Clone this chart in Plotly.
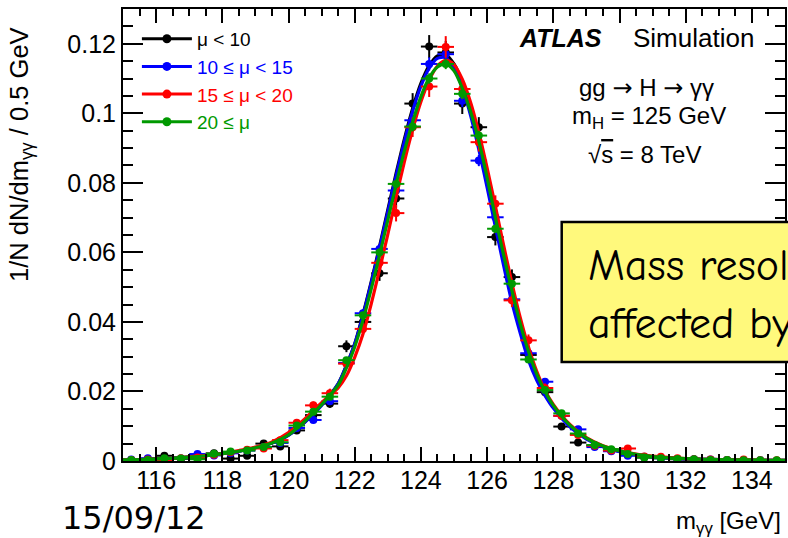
import plotly.graph_objects as go

# ---------------- data ----------------
bin_centers = [115.25, 115.75, 116.25, 116.75, 117.25, 117.75, 118.25, 118.75, 119.25, 119.75,
               120.25, 120.75, 121.25, 121.75, 122.25, 122.75, 123.25, 123.75, 124.25, 124.75,
               125.25, 125.75, 126.25, 126.75, 127.25, 127.75, 128.25, 128.75, 129.25, 129.75,
               130.25, 130.75, 131.25, 131.75, 132.25, 132.75, 133.25, 133.75, 134.25, 134.75]

black_vals = [0.0003, 0.0005, 0.0015, 0.0006, 0.0008, 0.0022, 0.0007, 0.0015, 0.0050, 0.0042,
              0.0088, 0.0132, 0.0165, 0.0330, 0.0400, 0.0540, 0.0755, 0.1028, 0.1192, 0.1175,
              0.1028, 0.0960, 0.0644, 0.0529, 0.0305, 0.0198, 0.0099, 0.0053, 0.0045, 0.0030,
              0.0018, 0.0010, 0.0008, 0.0005, 0.0004, 0.0003, 0.0002, 0.0002, 0.0001, 0.0001]
black_errs = [0.00016, 0.0002, 0.00037, 0.00023, 0.00027, 0.00045, 0.00025, 0.00037, 0.00067, 0.00062,
              0.00089, 0.0011, 0.0012, 0.0017, 0.0019, 0.0022, 0.0026, 0.0030, 0.0033, 0.0033,
              0.0030, 0.0029, 0.0024, 0.0022, 0.0017, 0.0013, 0.00095, 0.0007, 0.00064, 0.00052,
              0.0004, 0.0003, 0.00027, 0.0002, 0.00019, 0.00016, 0.00013, 0.00013, 0.0001, 0.0001]

blue_vals = [0.0004, 0.0008, 0.0006, 0.0007, 0.0020, 0.0016, 0.0022, 0.0030, 0.0040, 0.0052,
             0.0095, 0.0118, 0.0172, 0.0282, 0.0425, 0.0610, 0.0778, 0.0980, 0.1142, 0.1170,
             0.1036, 0.0864, 0.0701, 0.0465, 0.0310, 0.0228, 0.0130, 0.0091, 0.0040, 0.0028,
             0.0015, 0.0012, 0.0008, 0.0006, 0.0005, 0.0004, 0.0003, 0.0003, 0.0002, 0.0001]
blue_errs = [0.00011, 0.00016, 0.00013, 0.00015, 0.00025, 0.00022, 0.00026, 0.0003, 0.00035, 0.0004,
             0.00054, 0.0006, 0.00072, 0.00092, 0.0011, 0.0014, 0.0015, 0.0017, 0.0019, 0.0019,
             0.0018, 0.0016, 0.0015, 0.0012, 0.00097, 0.00083, 0.00063, 0.00052, 0.00035, 0.00029,
             0.00021, 0.00019, 0.00016, 0.00013, 0.00012, 0.00011, 0.0001, 0.0001, 0.00008, 0.00006]

red_vals = [0.0003, 0.0004, 0.0003, 0.0008, 0.0010, 0.0018, 0.0025, 0.0032, 0.0036, 0.0060,
            0.0110, 0.0160, 0.0195, 0.0280, 0.0380, 0.0570, 0.0713, 0.0960, 0.1077, 0.1191,
            0.1070, 0.0917, 0.0740, 0.0462, 0.0347, 0.0210, 0.0130, 0.0075, 0.0044, 0.0030,
            0.0036, 0.0013, 0.0012, 0.0008, 0.0005, 0.0004, 0.0003, 0.0004, 0.0002, 0.0002]
red_errs = [0.00016, 0.00018, 0.00016, 0.00025, 0.00028, 0.00038, 0.00045, 0.00051, 0.00054, 0.0007,
            0.00094, 0.0011, 0.0013, 0.0015, 0.0018, 0.0021, 0.0024, 0.0028, 0.0030, 0.0031,
            0.0029, 0.0027, 0.0024, 0.0019, 0.0017, 0.0013, 0.0010, 0.00078, 0.0006, 0.00049,
            0.00054, 0.00032, 0.00031, 0.00025, 0.0002, 0.00018, 0.00016, 0.00018, 0.00013, 0.00013]

green_vals = [0.0003, 0.0003, 0.0008, 0.0007, 0.0005, 0.0021, 0.0027, 0.0030, 0.0040, 0.0054,
              0.0102, 0.0142, 0.0185, 0.0290, 0.0419, 0.0600, 0.0797, 0.0962, 0.1100, 0.1142,
              0.1056, 0.0936, 0.0668, 0.0510, 0.0292, 0.0204, 0.0137, 0.0079, 0.0046, 0.0034,
              0.0020, 0.0010, 0.0008, 0.0006, 0.0005, 0.0003, 0.0003, 0.0002, 0.0002, 0.0002]
green_errs = [0.00008, 0.00008, 0.00013, 0.00012, 0.0001, 0.00021, 0.00023, 0.00025, 0.00028, 0.00033,
              0.00045, 0.00054, 0.00061, 0.00077, 0.00092, 0.0011, 0.0013, 0.0014, 0.0015, 0.0015,
              0.0015, 0.0014, 0.0012, 0.0010, 0.00077, 0.00064, 0.00053, 0.0004, 0.00031, 0.00026,
              0.0002, 0.00014, 0.00013, 0.00011, 0.0001, 0.00008, 0.00008, 0.00006, 0.00006, 0.00006]

# fitted curves
curve_x = [115.0, 115.5, 116.0, 116.5, 117.0, 117.5, 118.0, 118.5, 119.0, 119.5, 120.0, 120.5, 121.0, 121.5,
           121.75, 122.0, 122.25, 122.5, 122.75, 123.0, 123.25, 123.5, 123.75, 124.0, 124.25, 124.5, 124.75,
           125.0, 125.25, 125.5, 125.75, 126.0, 126.25, 126.5, 126.75, 127.0, 127.25, 127.5, 127.75,
           128.0, 128.5, 129.0, 129.5, 130.0, 130.5, 131.0, 131.5, 132.0, 132.5, 133.0, 133.5, 134.0, 134.5, 135.0]
black_curve = [0.0003, 0.0004, 0.0006, 0.0008, 0.0011, 0.0015, 0.0021, 0.0028, 0.0038, 0.0052, 0.0075, 0.0113, 0.0162, 0.0222,
               0.0275, 0.0337, 0.0422, 0.0516, 0.0617, 0.0722, 0.0827, 0.0926, 0.1014, 0.1086, 0.1137, 0.1165, 0.1168,
               0.1142, 0.1089, 0.1012, 0.0918, 0.0812, 0.0701, 0.0589, 0.0484, 0.0387, 0.0308, 0.0245, 0.0195,
               0.0158, 0.0102, 0.0065, 0.0042, 0.0028, 0.0018, 0.0012, 0.0009, 0.0006, 0.0005, 0.0004, 0.0003, 0.0002, 0.0002, 0.0002]
blue_curve = [0.0003, 0.0004, 0.0006, 0.0008, 0.0011, 0.0015, 0.0021, 0.0028, 0.0038, 0.0052, 0.0074, 0.0112, 0.0160, 0.0222,
              0.0274, 0.0336, 0.0418, 0.0512, 0.0612, 0.0716, 0.0820, 0.0918, 0.1006, 0.1078, 0.1130, 0.1158, 0.1160,
              0.1130, 0.1074, 0.0994, 0.0896, 0.0787, 0.0674, 0.0562, 0.0456, 0.0368, 0.0290, 0.0232, 0.0188,
              0.0152, 0.0098, 0.0063, 0.0041, 0.0027, 0.0018, 0.0012, 0.0009, 0.0006, 0.0005, 0.0004, 0.0003, 0.0002, 0.0002, 0.0002]
red_curve = [0.0003, 0.0004, 0.0006, 0.0008, 0.0012, 0.0016, 0.0022, 0.0030, 0.0040, 0.0055, 0.0082, 0.0122, 0.0168, 0.0210,
             0.0245, 0.0298, 0.0365, 0.0452, 0.0550, 0.0652, 0.0758, 0.0860, 0.0953, 0.1033, 0.1095, 0.1136, 0.1152,
             0.1140, 0.1098, 0.1032, 0.0945, 0.0843, 0.0733, 0.0620, 0.0512, 0.0413, 0.0328, 0.0258, 0.0203,
             0.0163, 0.0105, 0.0067, 0.0044, 0.0030, 0.0020, 0.0014, 0.0010, 0.0007, 0.0005, 0.0004, 0.0003, 0.0003, 0.0002, 0.0002]
green_curve = [0.0003, 0.0004, 0.0006, 0.0008, 0.0011, 0.0015, 0.0021, 0.0028, 0.0038, 0.0052, 0.0075, 0.0115, 0.0162, 0.0218,
               0.0268, 0.0328, 0.0405, 0.0495, 0.0592, 0.0693, 0.0795, 0.0891, 0.0975, 0.1048, 0.1102, 0.1133, 0.1142,
               0.1122, 0.1072, 0.1005, 0.0920, 0.0815, 0.0700, 0.0592, 0.0490, 0.0395, 0.0315, 0.0250, 0.0200,
               0.0160, 0.0103, 0.0066, 0.0043, 0.0029, 0.0019, 0.0013, 0.0009, 0.0007, 0.0005, 0.0004, 0.0003, 0.0003, 0.0002, 0.0002]

series_names = ["μ < 10", "10 ≤ μ < 15", "15 ≤ μ < 20", "20 ≤ μ"]
series_colors = ["#000000", "#0000FF", "#FF0000", "#009900"]
series_vals = [black_vals, blue_vals, red_vals, green_vals]
series_errs = [black_errs, blue_errs, red_errs, green_errs]
series_curves = [black_curve, blue_curve, red_curve, green_curve]

FONT = "Liberation Sans, Arial, Helvetica, sans-serif"
COMIC = "Comic Sans MS, Comic Neue, DejaVu Sans, sans-serif"

fig = go.Figure()
for name, color, vals, errs, curve in zip(series_names, series_colors, series_vals, series_errs, series_curves):
    fig.add_trace(go.Scatter(
        x=bin_centers, y=vals, mode="markers",
        marker=dict(color=color, size=8),
        error_y=dict(type="data", array=errs, color=color, thickness=2, width=0),
        error_x=dict(type="constant", value=0.25, color=color, thickness=2, width=0),
        showlegend=False, cliponaxis=True))
    fig.add_trace(go.Scatter(
        x=curve_x, y=curve, mode="lines",
        line=dict(color=color, width=3.2, shape="spline", smoothing=0.8),
        showlegend=False))

for name, color in zip(series_names, series_colors):
    fig.add_trace(go.Scatter(
        x=[None], y=[None], mode="lines+markers",
        name=f"<span style='color:{color}'>{name}</span>",
        line=dict(color=color, width=3), marker=dict(color=color, size=9)))

fig.update_layout(
    width=788, height=538,
    margin=dict(l=123, r=1, t=9, b=77),
    paper_bgcolor="white", plot_bgcolor="white",
    font=dict(family=FONT, color="black"),
    legend=dict(x=0.021, y=0.976, xanchor="left", yanchor="top",
                bgcolor="rgba(0,0,0,0)", borderwidth=0,
                font=dict(family=FONT, size=19), itemwidth=50,
                tracegroupgap=0),
    xaxis=dict(range=[115, 135], tick0=116, dtick=2,
               ticks="inside", ticklen=14, tickwidth=1.5, tickcolor="black",
               showline=True, linecolor="black", linewidth=2, mirror="allticks",
               showgrid=False, zeroline=False, ticklabelstandoff=-4,
               tickfont=dict(family=FONT, size=25, color="black"),
               minor=dict(ticks="inside", ticklen=7, dtick=0.5, tickwidth=1.5,
                          tickcolor="black", showgrid=False)),
    yaxis=dict(range=[0, 0.13], tick0=0, dtick=0.02,
               ticks="inside", ticklen=20, tickwidth=1.5, tickcolor="black",
               showline=True, linecolor="black", linewidth=2, mirror="allticks",
               showgrid=False, zeroline=False,
               tickfont=dict(family=FONT, size=25, color="black"),
               minor=dict(ticks="inside", ticklen=10, dtick=0.005, tickwidth=1.5,
                          tickcolor="black", showgrid=False)),
)

# yellow comment box (extends beyond the slide edge)
fig.add_shape(type="rect", xref="paper", yref="paper",
              x0=0.6627, x1=1.3, y0=0.219, y1=0.5288,
              fillcolor="#FFF97C", line=dict(color="black", width=2.5), layer="above")

ARROW = "<span style='font-family:DejaVu Sans'>→</span>"
ann = [
    dict(text="<b><i>ATLAS</i></b>", x=0.595, y=0.936, xanchor="left", size=25),
    dict(text="Simulation", x=0.768, y=0.936, xanchor="left", size=26),
    dict(text=f"gg {ARROW} H {ARROW} γγ", x=0.7907, y=0.825, xanchor="center", size=24),
    dict(text="m<sub>H</sub> = 125 GeV", x=0.795, y=0.760, xanchor="center", size=24),
    dict(text="√<span style='text-decoration:overline'>s</span> = 8 TeV", x=0.7877, y=0.677, xanchor="center", size=24),
    dict(text="m<sub>γγ</sub> [GeV]", x=0.997, y=-0.135, xanchor="right", size=24),
    dict(text="15/09/12", x=-0.0949, y=-0.126, xanchor="left", size=32, family="DejaVu Sans, sans-serif"),
    dict(text="Mass resolution not", x=0.699, y=0.4336, xanchor="left", size=44, family=COMIC),
    dict(text="affected by pile-up", x=0.699, y=0.3053, xanchor="left", size=44, family=COMIC),
]
for a in ann:
    fig.add_annotation(text=a["text"], xref="paper", yref="paper", x=a["x"], y=a["y"],
                       xanchor=a["xanchor"], yanchor="middle", showarrow=False,
                       font=dict(family=a.get("family", FONT), size=a["size"], color="black"))

fig.add_annotation(text="1/N dN/dm<sub>γγ</sub> / 0.5 GeV", xref="paper", yref="paper",
                   x=-0.155, y=0.678, xanchor="center", yanchor="middle", textangle=-90,
                   showarrow=False, font=dict(family=FONT, size=25.5, color="black"))

fig.write_html("out.html")
